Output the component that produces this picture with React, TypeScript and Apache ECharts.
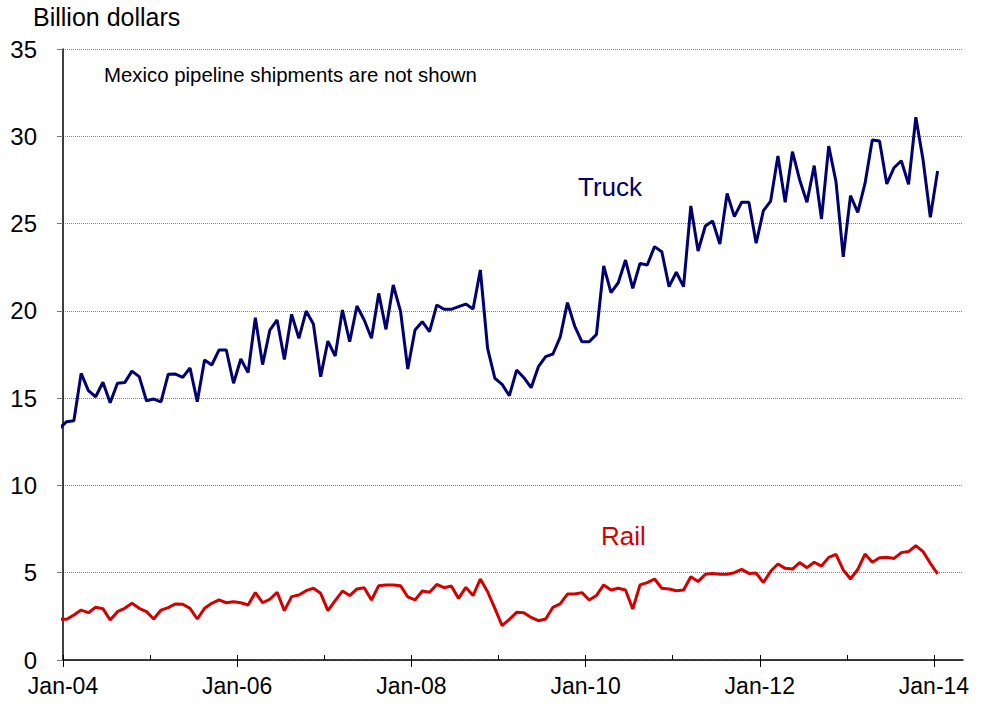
import { useEffect, useRef } from "react";
import * as echarts from "echarts";

// X axis: months counted from the Jan-04 tick; each month's value sits mid-month.
const xTickLabels = ["Jan-04", "Jan-06", "Jan-08", "Jan-10", "Jan-12", "Jan-14"];
const xTickMonths = [0, 24, 48, 72, 96, 120];
const yearTickMonths = [0, 12, 24, 36, 48, 60, 72, 84, 96, 108, 120];
const yTicks = [0, 5, 10, 15, 20, 25, 30, 35];

// Monthly values, Dec-03 .. Jan-14 (billion dollars)
const truck = [
  13.27,
  13.65, 13.71, 16.42, 15.43, 15.08, 15.91, 14.74, 15.85, 15.89, 16.55, 16.23, 14.85,
  14.95, 14.78, 16.37, 16.38, 16.19, 16.73, 14.8, 17.19, 16.9, 17.76, 17.76, 15.85,
  17.24, 16.46, 19.61, 16.92, 18.9, 19.48, 17.22, 19.8, 18.43, 19.99, 19.25, 16.23,
  18.27, 17.41, 20.05, 18.23, 20.28, 19.48, 18.43, 21.0, 18.94, 21.48, 19.99, 16.67,
  18.9, 19.38, 18.81, 20.34, 20.09, 20.09, 20.24, 20.39, 20.11, 22.34, 17.85, 16.14,
  15.79, 15.14, 16.61, 16.17, 15.6, 16.8, 17.38, 17.53, 18.49, 20.47, 19.13, 18.23,
  18.23, 18.65, 22.57, 21.04, 21.61, 22.91, 21.29, 22.72, 22.63, 23.68, 23.39, 21.39,
  22.21, 21.39, 26.01, 23.43, 24.86, 25.15, 23.83, 26.73, 25.4, 26.22, 26.22, 23.87,
  25.74, 26.29, 28.87, 26.22, 29.12, 27.5, 26.22, 28.32, 25.26, 29.44, 27.4, 23.1,
  26.6, 25.64, 27.3, 29.79, 29.73, 27.27, 28.2, 28.6, 27.25, 31.09, 28.64, 25.36,
  28.01,
];

const rail = [
  2.33,
  2.33, 2.58, 2.86, 2.71, 3.02, 2.94, 2.29, 2.77, 2.96, 3.25, 2.96, 2.77,
  2.35, 2.86, 3.0, 3.21, 3.19, 2.96, 2.35, 2.96, 3.25, 3.44, 3.28, 3.34,
  3.28, 3.15, 3.86, 3.28, 3.48, 3.88, 2.83, 3.63, 3.72, 3.97, 4.11, 3.82,
  2.83, 3.4, 3.95, 3.69, 4.07, 4.14, 3.44, 4.26, 4.3, 4.3, 4.26, 3.61,
  3.44, 3.95, 3.88, 4.33, 4.14, 4.24, 3.53, 4.16, 3.69, 4.64, 3.91, 2.96,
  1.97, 2.33, 2.73, 2.71, 2.44, 2.25, 2.35, 3.02, 3.21, 3.78, 3.78, 3.86,
  3.44, 3.7, 4.3, 4.01, 4.11, 4.01, 2.92, 4.3, 4.43, 4.64, 4.11, 4.07,
  3.97, 4.01, 4.77, 4.49, 4.91, 4.96, 4.91, 4.91, 5.0, 5.19, 4.96, 4.98,
  4.44, 5.08, 5.5, 5.25, 5.21, 5.58, 5.29, 5.6, 5.38, 5.88, 6.05, 5.16,
  4.64, 5.19, 6.07, 5.6, 5.86, 5.88, 5.82, 6.15, 6.21, 6.55, 6.21, 5.54,
  4.93,
];

const FONT = "'Liberation Sans', Arial, sans-serif";

export default function App() {
  const ref = useRef<HTMLDivElement>(null);

  useEffect(() => {
    if (!ref.current) return;
    const chart = echarts.init(ref.current, undefined, { renderer: "svg" });
    const toPoints = (arr: number[]) => arr.map((v, i) => [i - 0.5, v]);

    chart.setOption({
      animation: false,
      backgroundColor: "#ffffff",
      grid: { left: 63, right: 18, top: 49, bottom: 47, containLabel: false },
      xAxis: [
        {
          type: "value",
          min: 0,
          max: 124,
          axisLine: { show: true, onZero: false, lineStyle: { color: "#000", width: 1.5 } },
          axisTick: {
            show: true,
            customValues: xTickMonths,
            inside: false,
            length: 7,
            lineStyle: { color: "#000", width: 1 },
          },
          axisLabel: {
            show: true,
            customValues: xTickMonths,
            formatter: (v: number) => xTickLabels[xTickMonths.indexOf(Math.round(v))] ?? "",
            fontFamily: FONT,
            fontSize: 23,
            color: "#000",
            margin: 14,
          },
          splitLine: { show: false },
        },
        {
          type: "value",
          min: 0,
          max: 124,
          position: "bottom",
          axisLine: { show: false },
          axisTick: {
            show: true,
            customValues: yearTickMonths,
            inside: true,
            length: 5,
            lineStyle: { color: "#000", width: 1 },
          },
          axisLabel: { show: false },
          splitLine: { show: false },
        },
      ],
      yAxis: {
        type: "value",
        min: 0,
        max: 35,
        interval: 5,
        axisLine: { show: true, lineStyle: { color: "#000", width: 1.5 } },
        axisTick: { show: true, length: 6, lineStyle: { color: "#777" } },
        axisLabel: {
          fontFamily: FONT,
          fontSize: 24,
          color: "#000",
          margin: 26,
          formatter: (v: number) => (yTicks.includes(v) ? String(v) : ""),
        },
        splitLine: { show: true, lineStyle: { color: "#808080", type: "dotted", width: 1 } },
      },
      series: [
        {
          name: "Truck",
          type: "line",
          xAxisIndex: 0,
          data: toPoints(truck),
          showSymbol: false,
          symbol: "none",
          clip: true,
          lineStyle: { color: "#000070", width: 3 },
        },
        {
          name: "Rail",
          type: "line",
          xAxisIndex: 0,
          data: toPoints(rail),
          showSymbol: false,
          symbol: "none",
          clip: true,
          lineStyle: { color: "#D40000", width: 3 },
        },
      ],
      graphic: [
        {
          type: "text",
          left: 33,
          top: 4,
          style: { text: "Billion dollars", fill: "#000", font: `25px ${FONT}` },
        },
        {
          type: "text",
          left: 104,
          top: 65,
          style: { text: "Mexico pipeline shipments are not shown", fill: "#000", font: `20.4px ${FONT}` },
        },
        {
          type: "text",
          left: 578,
          top: 174,
          style: { text: "Truck", fill: "#000070", font: `26px ${FONT}` },
        },
        {
          type: "text",
          left: 601,
          top: 523,
          style: { text: "Rail", fill: "#D40000", font: `26px ${FONT}` },
        },
      ],
    });

    return () => chart.dispose();
  }, []);

  return (
    <div
      ref={ref}
      style={{ position: "fixed", left: 0, top: 0, width: 981, height: 707, background: "#fff" }}
    />
  );
}
